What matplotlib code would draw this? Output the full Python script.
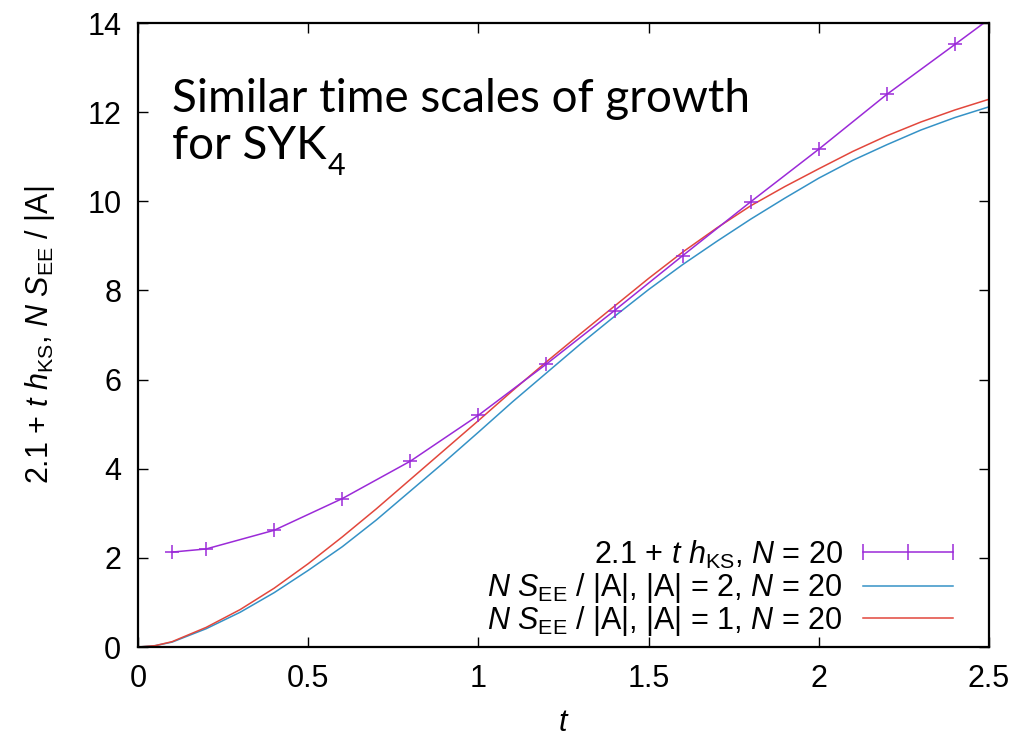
"""Entanglement growth vs. KS-entropy line for SYK4, N = 20."""

import matplotlib
matplotlib.use("Agg")
import matplotlib.pyplot as plt
from matplotlib.lines import Line2D

PURPLE = "#9b2ad8"
BLUE = "#3592c6"
RED = "#e2473c"

plt.rcParams["font.family"] = ["Liberation Sans", "DejaVu Sans"]
plt.rcParams["mathtext.fontset"] = "custom"
plt.rcParams["mathtext.rm"] = "Liberation Sans"
plt.rcParams["mathtext.it"] = "Liberation Sans:italic"

# 2.1 + t h_KS (points every 0.2, plus t = 0.1)
t_ks = [0.1, 0.2, 0.4, 0.6, 0.8, 1.0, 1.2, 1.4, 1.6, 1.8, 2.0, 2.2, 2.4, 2.6]
y_ks = [2.13, 2.20, 2.62, 3.33, 4.17, 5.20, 6.35, 7.55, 8.78, 9.99,
        11.17, 12.40, 13.52, 14.65]

# N S_EE / |A| curves
t_ee = [0.0, 0.05, 0.1, 0.2, 0.3, 0.4, 0.5, 0.6, 0.7, 0.8, 0.9, 1.0, 1.1,
        1.2, 1.3, 1.4, 1.5, 1.6, 1.7, 1.8, 1.9, 2.0, 2.1, 2.2, 2.3, 2.4, 2.5]
y_a2 = [0.0, 0.03, 0.11, 0.41, 0.78, 1.22, 1.72, 2.25, 2.85, 3.50, 4.15,
        4.82, 5.50, 6.15, 6.80, 7.42, 8.02, 8.58, 9.10, 9.60, 10.07, 10.52,
        10.92, 11.27, 11.60, 11.88, 12.12]
y_a1 = [0.0, 0.03, 0.12, 0.44, 0.84, 1.32, 1.87, 2.47, 3.10, 3.76, 4.42,
        5.08, 5.75, 6.40, 7.03, 7.65, 8.27, 8.86, 9.40, 9.90, 10.33, 10.73,
        11.12, 11.47, 11.78, 12.05, 12.29]

labels = [
    r"2.1 + $t\ h_{\mathrm{KS}}$, $N$ = 20",
    r"$N\ S_{\mathrm{EE}}$ / |A|, |A| = 2, $N$ = 20",
    r"$N\ S_{\mathrm{EE}}$ / |A|, |A| = 1, $N$ = 20",
]

x_ticks = [0, 0.5, 1, 1.5, 2, 2.5]
x_ticklabels = ["0", "0.5", "1", "1.5", "2", "2.5"]
y_ticks = [0, 2, 4, 6, 8, 10, 12, 14]

FS = 22

fig = plt.figure(figsize=(10.18, 7.36), dpi=100)
ax = fig.add_axes([0.1356, 0.1209, 0.8359, 0.8478])

ax.plot(t_ee, y_a2, color=BLUE, lw=1.1)
ax.plot(t_ee, y_a1, color=RED, lw=1.1)
ax.plot(t_ks, y_ks, color=PURPLE, lw=1.1, marker="+", ms=10, mew=1.1)

ax.set_xlim(0, 2.5)
ax.set_ylim(0, 14)
ax.set_xticks(x_ticks)
ax.set_xticklabels(x_ticklabels)
ax.set_yticks(y_ticks)
ax.tick_params(direction="in", length=7, width=1, top=True, right=True,
               labelsize=FS)
ax.tick_params(axis="x", pad=12)
ax.tick_params(axis="y", pad=12)
for sp in ax.spines.values():
    sp.set_linewidth(1.6)

ax.set_xlabel(r"$t$", fontsize=FS, labelpad=10)
ax.set_ylabel(r"2.1 + $t\ h_{\mathrm{KS}}$, $N\ S_{\mathrm{EE}}$ / |A|",
              fontsize=FS, labelpad=22)

# key, bottom right, drawn in axes fraction
text_x = 0.828
x0, x1 = 0.852, 0.958
rows = [(0.134, 0.152), (0.081, 0.097), (0.029, 0.046)]
for (yb, yl), lab in zip(rows, labels):
    ax.text(text_x, yb, lab, transform=ax.transAxes, ha="right",
            va="baseline", fontsize=FS)
ax.add_line(Line2D([x0, x1], [rows[0][1]] * 2, transform=ax.transAxes,
                   color=PURPLE, lw=1.1))
ax.add_line(Line2D([x0, (x0 + x1) / 2, x1], [rows[0][1]] * 3,
                   transform=ax.transAxes, color=PURPLE, lw=0,
                   marker="|", ms=12, mew=1.1))
ax.add_line(Line2D([x0, x1], [rows[1][1]] * 2, transform=ax.transAxes,
                   color=BLUE, lw=1.1))
ax.add_line(Line2D([x0, x1], [rows[2][1]] * 2, transform=ax.transAxes,
                   color=RED, lw=1.1))

# slide annotation
ax.text(0.04, 0.858, "Similar time scales of growth", transform=ax.transAxes,
        fontsize=33, family="Lato", va="baseline")
line2 = ax.text(0.04, 0.782, "for SYK", transform=ax.transAxes,
                fontsize=33, family="Lato", va="baseline")
ax.annotate("4", xy=(1, 0), xycoords=line2, xytext=(1, -9),
            textcoords="offset points", fontsize=22, family="Lato",
            va="bottom", ha="left")

fig.savefig("out.png", dpi=100, facecolor="white")
